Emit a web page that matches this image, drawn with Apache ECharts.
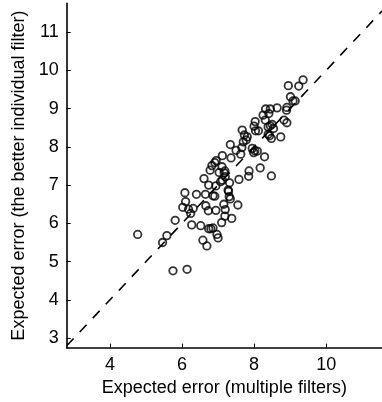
<!DOCTYPE html>
<html>
<head>
<meta charset="utf-8">
<script src="https://cdn.jsdelivr.net/npm/echarts@6/dist/echarts.min.js"></script>
<style>
  html, body { margin: 0; padding: 0; background: #fff; }
  #chart { width: 382px; height: 402px; }
</style>
</head>
<body>
<div id="chart"></div>
<script>
// expected error: multiple filters (x) vs the better individual filter (y)
const multipleFilters = [
  4.77, 5.46, 5.58, 5.81, 5.75, 6.14,
  6.08, 6.10, 6.02, 6.18, 6.31, 6.24, 6.27, 6.40, 6.52,
  6.61, 6.65, 6.66, 6.58, 6.69, 6.73, 6.74, 6.78, 6.83, 6.86, 6.91, 6.95,
  6.74, 6.80, 6.86, 6.94, 6.97, 7.00, 6.94, 7.03, 7.11, 7.12, 7.10, 7.07, 7.12,
  7.17, 7.19, 7.20, 7.16, 7.20, 7.19, 7.28, 7.31, 7.32, 7.34, 7.36, 7.34, 7.38,
  7.50, 7.55, 7.58, 7.63, 7.66, 7.67, 7.70, 7.73, 7.78, 7.81, 7.86, 7.85,
  7.95, 8.02, 8.04, 8.09, 7.99, 8.03, 8.00, 8.12, 8.17, 8.29, 8.25, 8.31, 8.32,
  8.39, 8.41, 8.45, 8.39, 8.43, 8.48, 8.48, 8.50, 8.54, 8.45, 8.64, 8.74, 8.83,
  8.90, 8.91, 8.91, 8.95, 9.01, 9.08, 9.14, 9.24, 9.36, 6.91, 7.29
];
const betterIndividual = [
  5.71, 5.50, 5.68, 6.08, 4.76, 4.80,
  6.80, 6.57, 6.42, 6.37, 6.39, 6.26, 5.96, 6.76, 5.94,
  7.17, 6.76, 6.46, 5.56, 5.41, 6.33, 7.00, 7.39, 7.51, 6.72, 7.59, 7.64,
  5.86, 5.86, 5.88, 6.34, 5.71, 5.62, 6.98, 7.33, 7.48, 7.77, 6.02, 7.09, 7.13,
  7.32, 7.37, 7.22, 6.50, 6.36, 6.19, 6.87, 6.70, 7.06, 6.64, 7.71, 8.06, 6.13,
  7.91, 6.48, 7.15, 7.81, 7.98, 8.44, 8.13, 8.31, 8.18, 8.26, 7.37, 7.23,
  7.96, 7.90, 8.42, 7.89, 7.85, 8.66, 8.54, 8.42, 7.45, 7.74, 8.83, 8.70, 8.99,
  8.52, 8.87, 8.99, 8.33, 8.29, 8.22, 7.24, 8.59, 8.48, 8.55, 9.02, 8.26, 8.70,
  8.96, 9.03, 8.63, 9.60, 9.31, 9.20, 9.20, 9.59, 9.75, 6.71, 6.84
];
const xTicks = [4, 6, 8, 10];
const yTicks = [3, 4, 5, 6, 7, 8, 9, 10, 11];
const diagonal = [[2.8, 2.8], [11.75, 11.75]];

const points = multipleFilters.map((x, i) => [x, betterIndividual[i]]);

const font = 'Liberation Sans, Arial, Helvetica, sans-serif';

const myChart = echarts.init(document.getElementById('chart'));

const option = {
  animation: false,
  backgroundColor: '#fff',
  grid: { left: 66.7, right: 0, top: 3.4, bottom: 54.3 },
  xAxis: {
    type: 'value',
    min: 2.8,
    max: 11.55,
    name: 'Expected error (multiple filters)',
    nameLocation: 'middle',
    nameGap: 31,
    nameTextStyle: { fontFamily: font, fontSize: 18, color: '#000' },
    splitLine: { show: false },
    axisLine: { lineStyle: { color: '#000', width: 1.6 } },
    axisTick: { inside: true, length: 4, customValues: xTicks, lineStyle: { color: '#000' } },
    axisLabel: { customValues: xTicks, margin: 8, fontFamily: font, fontSize: 18, color: '#000' }
  },
  yAxis: {
    type: 'value',
    min: 2.75,
    max: 11.75,
    name: 'Expected error (the better individual filter)',
    nameLocation: 'middle',
    nameGap: 37,
    nameTextStyle: { fontFamily: font, fontSize: 18, color: '#000' },
    splitLine: { show: false },
    axisLine: { lineStyle: { color: '#000', width: 1.6 } },
    axisTick: { inside: true, length: 4, customValues: yTicks, lineStyle: { color: '#000' } },
    axisLabel: { customValues: yTicks, margin: 8, fontFamily: font, fontSize: 18, color: '#000' }
  },
  series: [
    {
      type: 'line',
      data: diagonal,
      symbol: 'none',
      silent: true,
      z: 1,
      lineStyle: { color: '#000', width: 1.6, type: [10, 9] }
    },
    {
      type: 'scatter',
      data: points,
      symbol: 'circle',
      symbolSize: 7.5,
      z: 2,
      itemStyle: { color: 'transparent', borderColor: '#000', borderWidth: 1.8 }
    }
  ]
};

myChart.setOption(option);
</script>
</body>
</html>
